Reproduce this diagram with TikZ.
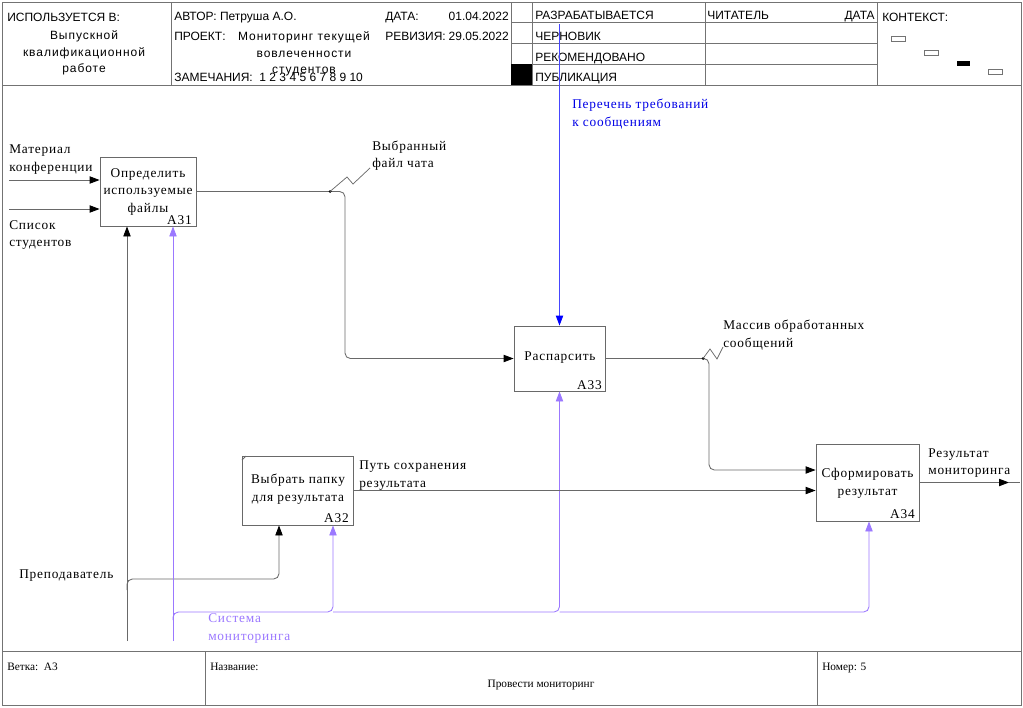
\documentclass[tikz,border=0pt]{standalone}
\usepackage{fontspec}
\setmainfont{Liberation Serif}
\newfontfamily\hdr{Liberation Sans}
\usetikzlibrary{arrows.meta}
\definecolor{lg}{RGB}{105,105,105}
\definecolor{fg}{RGB}{115,115,115}
\definecolor{pu}{RGB}{155,120,255}
\definecolor{bl}{RGB}{70,70,255}
\definecolor{bt}{RGB}{0,0,230}
\begin{document}
\begin{tikzpicture}[x=0.75pt,y=-0.75pt,
  fr/.style={draw=fg, line width=0.65pt},
  conn/.style={draw=lg, line width=0.65pt, rounded corners=4pt},
  thin/.style={draw=lg, line width=0.55pt},
  arr/.style={conn, -{Triangle[length=7.5pt,width=5.5pt,color=black]}},
  parr/.style={draw=pu, line width=0.65pt, rounded corners=4pt, -{Triangle[length=7.5pt,width=5.5pt]}},
  barr/.style={draw=bl, line width=0.65pt, -{Triangle[length=7.5pt,width=5.5pt,color=blue]}},
  box/.style={draw=lg, line width=0.65pt, inner sep=0pt},
  hd/.style={font=\hdr\fontsize{9}{11}\selectfont, inner sep=0pt, anchor=base west},
  hdc/.style={font=\hdr\fontsize{9}{11}\selectfont\addfontfeature{LetterSpace=8}, inner sep=0pt, anchor=base},
  lb/.style={font=\fontsize{10}{12}\selectfont\addfontfeature{LetterSpace=6}, inner sep=0pt, anchor=base west},
  lbc/.style={lb, anchor=base},
  lbr/.style={lb, anchor=base east},
  ft/.style={font=\fontsize{8.5}{10}\selectfont, inner sep=0pt, anchor=base west},
  ctx/.style={draw=fg, line width=0.55pt}
]
\useasboundingbox (0,0) rectangle (1023,707);
% ---------- frame ----------
\draw[fr] (2,2) rectangle (1021,705);
\draw[fr] (2,85) -- (1021,85);
\draw[fr] (171,2) -- (171,85);
\draw[fr] (511,2) -- (511,85);
\draw[fr] (532,2) -- (532,85);
\draw[fr] (705,2) -- (705,85);
\draw[fr] (877,2) -- (877,85);
\draw[fr] (511,22) -- (877,22);
\draw[fr] (511,43) -- (877,43);
\draw[fr] (511,64) -- (877,64);
\fill[black] (511,64) rectangle (532,85);
\draw[ctx] (891,36) rectangle (905,41);
\draw[ctx] (924,50) rectangle (938,55);
\fill[black] (957,61) rectangle (970,66);
\draw[ctx] (988,69) rectangle (1002,74);
\draw[fr] (2,651) -- (1021,651);
\draw[fr] (205,651) -- (205,705);
\draw[fr] (817,651) -- (817,705);
% ---------- header text ----------
\node[hd] (h1) at (7,21) {ИСПОЛЬЗУЕТСЯ В:};
\node[hdc] (h2) at (84,39) {Выпускной};
\node[hdc] (h3) at (84,56) {квалификационной};
\node[hdc] (h4) at (84,72) {работе};
\node[hd] (h5) at (174,20) {АВТОР: Петруша А.О.};
\node[hd] (h6) at (385,20) {ДАТА:};
\node[hd, anchor=base east] (h7) at (509,20) {01.04.2022};
\node[hd] (h8) at (174,40) {ПРОЕКТ:};
\node[hdc] (h9) at (304,40) {Мониторинг текущей};
\node[hdc] (h10) at (304,57) {вовлеченности};
\node[hdc] (h11) at (304,73) {студентов};
\node[hd] (h12) at (385,40) {РЕВИЗИЯ:};
\node[hd, anchor=base east] (h13) at (509,40) {29.05.2022};
\node[hd] (h14) at (174,81) {ЗАМЕЧАНИЯ:\ \ 1 2 3 4 5 6 7 8 9 10};
\node[hd] (h15) at (535,19) {РАЗРАБАТЫВАЕТСЯ};
\node[hd] (h16) at (535,40) {ЧЕРНОВИК};
\node[hd] (h17) at (535,61) {РЕКОМЕНДОВАНО};
\node[hd] (h18) at (535,81) {ПУБЛИКАЦИЯ};
\node[hd] (h19) at (707,19) {ЧИТАТЕЛЬ};
\node[hd, anchor=base east] (h20) at (875,19) {ДАТА};
\node[hd] (h21) at (882,21) {КОНТЕКСТ:};
% ---------- footer text ----------
\node[ft] (f1) at (7,670) {Ветка:\ \ А3};
\node[ft] (f2) at (210,670) {Название:};
\node[ft, anchor=base] (f3) at (541,687) {Провести мониторинг};
\node[ft] (f4) at (822,670) {Номер: 5};
% ---------- boxes ----------
\node[box, minimum width=96pt*0.75, minimum height=69pt*0.75] (a31) at (148,191.5) {};
\node[box, minimum width=91pt*0.75, minimum height=65pt*0.75] (a33) at (559.5,358.5) {};
\node[box, minimum width=111pt*0.75, minimum height=69pt*0.75] (a32) at (297.5,490.5) {};
\node[box, minimum width=103pt*0.75, minimum height=77pt*0.75] (a34) at (867.5,482.5) {};
\draw[thin] (242,460) -- (246,456);
\node[lbc] (t31a) at (148,177) {Определить};
\node[lbc] (t31b) at (148,194.5) {используемые};
\node[lbc] (t31c) at (148,212) {файлы};
\node[lbr] (n31) at (192,224) {А31};
\node[lbc] (t33a) at (560,360) {Распарсить};
\node[lbr] (n33) at (602,389) {А33};
\node[lbc] (t32a) at (298,483) {Выбрать папку};
\node[lbc] (t32b) at (298,501) {для результата};
\node[lbr] (n32) at (349,522) {А32};
\node[lbc] (t34a) at (867.5,477) {Сформировать};
\node[lbc] (t34b) at (867.5,495) {результат};
\node[lbr] (n34) at (915,518) {А34};
% ---------- coordinates ----------
\coordinate (i1) at (9,180);
\coordinate (i2) at (9,209);
\coordinate (m1) at (127,641);
\coordinate (m1b) at (127,590);
\coordinate (m32) at (279,579);
\coordinate (s1) at (173,641);
\coordinate (s1b) at (173,620);
\coordinate (s32) at (333,612);
\coordinate (s33) at (559.5,612);
\coordinate (s34) at (869,612);
\coordinate (j1) at (345,358.5);
\coordinate (j2) at (709,470);
\coordinate (c1) at (559.5,24);
\coordinate (o1) at (1009,482.5);
\coordinate (o2) at (1020,482.5);
\coordinate (d1) at (330,191.5);
\coordinate (d2) at (703,358.5);
% ---------- connectors ----------
\draw[arr] (i1) -- (i1 -| a31.west);
\draw[arr] (i2) -- (i2 -| a31.west);
\draw[arr] (m1) -- (m1 |- a31.south);
\draw[arr] (m1b) |- (m32) -- (m32 |- a32.south);
\draw[parr] (s1) -- (s1 |- a31.south);
\draw[parr] (s1b) |- (s32) -- (s32 |- a32.south);
\draw[parr] (s32) -- (s33) -- (a33.south);
\draw[parr] (s33) -- (s34) -- (s34 |- a34.south);
\draw[arr] (a31.east) -| (j1) -- (a33.west);
\draw[arr] (a33.east) -| (j2) -- (j2 -| a34.west);
\draw[arr] (a32.east) -- (a32.east -| a34.west);
\draw[arr] (a34.east) -- (o1);
\draw[conn] (o1) -- (o2);
\draw[barr] (c1) -- (a33.north);
\fill[black] (d1) circle (1.5);
\fill[black] (d2) circle (1.5);
\draw[thin] (d1) -- (347,177) -- (353,184) -- (370,168);
\draw[thin] (d2) -- (710,349) -- (717,359) -- (723,347);
% ---------- labels ----------
\node[lb] (l1a) at (9,153) {Материал};
\node[lb] (l1b) at (9,171) {конференции};
\node[lb] (l2a) at (9,229) {Список};
\node[lb] (l2b) at (9,246) {студентов};
\node[lb] (l3a) at (372,150) {Выбранный};
\node[lb] (l3b) at (372,167) {файл чата};
\node[lb] (l4a) at (723,329) {Массив обработанных};
\node[lb] (l4b) at (723,347) {сообщений};
\node[lb, text=bt] (l5a) at (572,108) {Перечень требований};
\node[lb, text=bt] (l5b) at (572,126) {к сообщениям};
\node[lb] (l6a) at (359,469) {Путь сохранения};
\node[lb] (l6b) at (359,487) {результата};
\node[lb] (l7a) at (928,457) {Результат};
\node[lb] (l7b) at (928,474) {мониторинга};
\node[lb] (l8) at (19,578) {Преподаватель};
\node[lb, text=pu] (l9a) at (208,622) {Система};
\node[lb, text=pu] (l9b) at (208,640) {мониторинга};
\end{tikzpicture}
\end{document}
